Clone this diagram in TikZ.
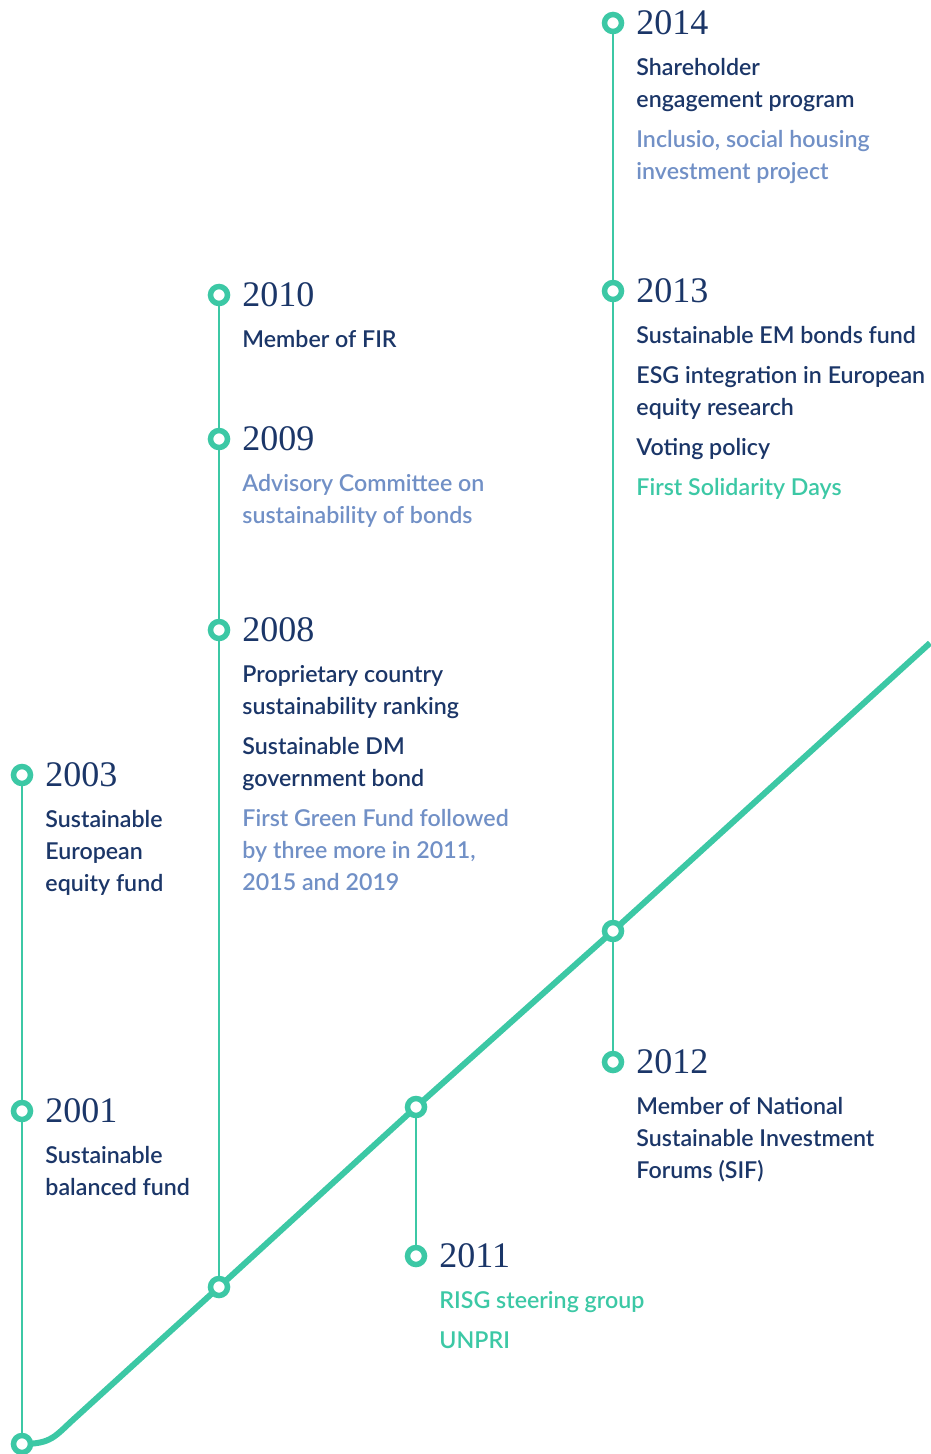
\documentclass[tikz,border=0pt]{standalone}
\usepackage{fontspec}
\usepackage{tikz}
\usetikzlibrary{%
	positioning,% wg. " of "
	backgrounds
}
\newfontfamily\yearfont{Liberation Serif}
\newfontfamily\itemfont{Lato Semibold}
\definecolor{navy}{HTML}{1B3668}
\definecolor{softblue}{HTML}{7190C6}
\definecolor{mint}{HTML}{3CC8A5}
\newcommand{\lite}[1]{\textcolor{softblue}{#1}}
\newcommand{\mintx}[1]{\textcolor{mint}{#1}}
\tikzstyle{dot}=[circle, minimum size=17pt, inner sep=0pt, line width=5.5pt, draw=mint, fill=white]
\tikzstyle{stem}=[draw=mint, line width=1.5pt]
\tikzstyle{trend}=[draw=mint, line width=6pt]
\tikzstyle{year}=[font=\yearfont\fontsize{36}{36}\selectfont, text=navy, inner sep=0pt]
\tikzstyle{entry}=[align=left, inner sep=0pt, text=navy, font=\itemfont\fontsize{23.2}{32}\selectfont]
\pgfdeclarelayer{bg}
\pgfsetlayers{bg,main}

\begin{document}
\begin{tikzpicture}[x=1pt,y=-1pt]
		
		\useasboundingbox (0,0) rectangle (930,1454);
		
		% First we draw the points on the trend line
		\foreach \pos/\name in {{(22,1444)/start}, {(219,1287)/a}, {(416,1107)/b}, {(613,931)/c}}
		\node[dot] (\name) at \pos {};
		\coordinate (k) at (75,1418);
		\coordinate (tip) at (930,643);
		
		% Then the points of the years
		\foreach \pos/\name in {{(22,1111)/2001}, {(22,775)/2003}, {(219,630)/2008}, {(219,439)/2009},
			{(219,295)/2010}, {(416,1256)/2011}, {(613,1062)/2012}, {(613,291)/2013}, {(613,23)/2014}}
		\node[dot] (y\name) at \pos {};
		
		% Years next to the points
		\foreach \name in {2001,2003,2008,2009,2010,2011,2012,2013,2014}
		\node[year, right=12pt of y\name] (t\name) {\name};
		
		% What happened in each year
		\node[entry, below=23.5pt of t2001.base west, anchor=north west] (e2001) {Sustainable\\balanced fund};
		\node[entry, below=23.5pt of t2003.base west, anchor=north west] (e2003) {Sustainable\\European\\equity fund};
		\node[entry, below=23.5pt of t2008.base west, anchor=north west] (e2008) {Proprietary country\\sustainability ranking\\[8pt]
			Sustainable DM\\government bond\\[8pt]
			\lite{First Green Fund followed}\\\lite{by three more in 2011,}\\\lite{2015 and 2019}};
		\node[entry, below=23.5pt of t2009.base west, anchor=north west] (e2009) {\lite{Advisory Committee on}\\\lite{sustainability of bonds}};
		\node[entry, below=23.5pt of t2010.base west, anchor=north west] (e2010) {Member of FIR};
		\node[entry, below=23.5pt of t2011.base west, anchor=north west] (e2011) {\mintx{RISG steering group}\\[8pt]\mintx{UNPRI}};
		\node[entry, below=23.5pt of t2012.base west, anchor=north west] (e2012) {Member of National\\Sustainable Investment\\Forums (SIF)};
		\node[entry, below=23.5pt of t2013.base west, anchor=north west] (e2013) {Sustainable EM bonds fund\\[8pt]
			ESG integration in European\\equity research\\[8pt]
			Voting policy\\[8pt]
			\mintx{First Solidarity Days}};
		\node[entry, below=23.5pt of t2014.base west, anchor=north west] (e2014) {Shareholder\\engagement program\\[8pt]
			\lite{Inclusio, social housing}\\\lite{investment project}};
		
		% Stems and trend line behind the points
		\begin{pgfonlayer}{bg}
		\path[stem] (start) -- (y2001) -- (y2003);
		\path[stem] (a) -- (y2008) -- (y2009) -- (y2010);
		\path[stem] (b) -- (y2011);
		\path[stem] (y2012) -- (c) -- (y2013) -- (y2014);
		\path[trend] (start.center) .. controls +(30,0) and +(-20,18) .. (k) -- (a.center) -- (b.center) -- (c.center) -- (tip);
		\end{pgfonlayer}
		
\end{tikzpicture}
\end{document}
